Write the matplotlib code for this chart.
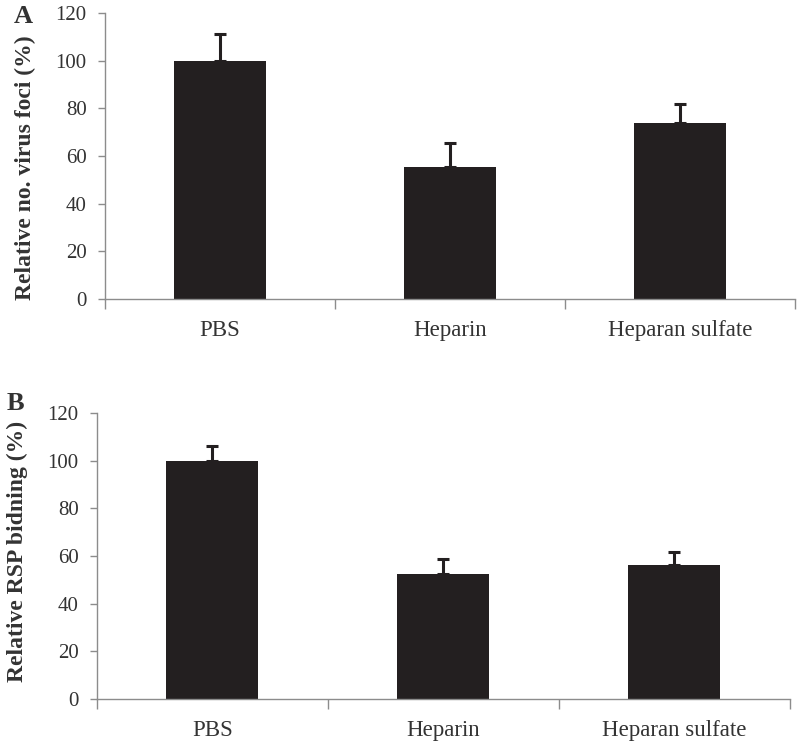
import matplotlib
matplotlib.use("Agg")
import matplotlib.pyplot as plt
import numpy as np

plt.rcParams['font.family'] = ['Liberation Serif', 'DejaVu Serif']

categories = ['PBS', 'Heparin', 'Heparan sulfate']

# panel A: relative number of virus foci (%)
foci_mean = [100, 55.4, 73.9]
foci_err = [11, 10, 8]

# panel B: relative RSP binding (%)
rsp_mean = [100, 52.5, 56.2]
rsp_err = [6.3, 6.1, 5.5]

yticks = [0, 20, 40, 60, 80, 100, 120]

bar_col = '#231f20'
axis_col = '#8c8c8c'
text_col = '#333333'

fig = plt.figure(figsize=(8, 7.47), dpi=100)
axA = fig.add_axes([0.131, 0.5997, 0.863, 0.3829])
axB = fig.add_axes([0.121, 0.0643, 0.866, 0.3829])


def draw_panel(ax, means, errs, ylabel):
    x = np.arange(len(categories))
    ax.bar(x, means, width=0.4, color=bar_col, zorder=2)
    ax.errorbar(x, means, yerr=[np.zeros(len(errs)), errs], fmt='none',
                ecolor=bar_col, elinewidth=2.2, capsize=4, capthick=2.2, zorder=3)
    ax.set_xlim(-0.5, 2.5)
    ax.set_ylim(0, 120)
    ax.set_yticks(yticks)
    ax.set_yticklabels([str(t) for t in yticks], fontsize=15, color=text_col)
    # ticks on the x axis mark the category borders
    ax.set_xticks([-0.5, 0.5, 1.5, 2.5])
    ax.set_xticklabels([])
    ax.set_xticks(x, minor=True)
    ax.set_xticklabels(categories, minor=True, fontsize=16.5, color=text_col)
    ax.tick_params(axis='x', which='major', length=7, width=1, color=axis_col)
    ax.tick_params(axis='x', which='minor', length=0, pad=15)
    ax.tick_params(axis='y', length=5, width=1, color=axis_col, pad=8)
    for s in ['top', 'right']:
        ax.spines[s].set_visible(False)
    for s in ['left', 'bottom']:
        ax.spines[s].set_color(axis_col)
        ax.spines[s].set_linewidth(1)
    ax.set_ylabel(ylabel, fontsize=17, fontweight='bold', color=text_col)


draw_panel(axA, foci_mean, foci_err, 'Relative no. virus foci (%)')
draw_panel(axB, rsp_mean, rsp_err, 'Relative RSP bidning (%)')
axA.yaxis.set_label_coords(-0.1, 0.46)
axB.yaxis.set_label_coords(-0.1, 0.515)

fig.text(0.017, 0.993, 'A', fontsize=19, fontweight='bold', color=text_col, va='top')
fig.text(0.008, 0.475, 'B', fontsize=19, fontweight='bold', color=text_col, va='top')

fig.savefig('out.png', dpi=100)
